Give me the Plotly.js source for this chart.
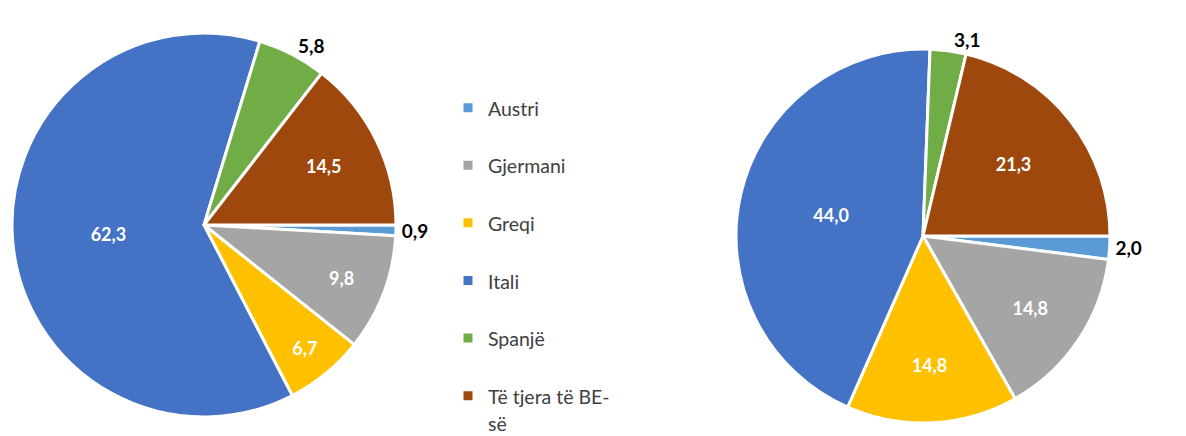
<!DOCTYPE html>
<html>
<head>
<meta charset="utf-8">
<script src="https://cdn.plot.ly/plotly-3.0.1.min.js"></script>
<style>html,body{margin:0;padding:0;background:#fff;}#chart{width:1186px;height:436px;}</style>
</head>
<body>
<div id="chart"></div>
<script>
const categories = ["Austri", "Gjermani", "Greqi", "Itali", "Spanjë", "Të tjera të BE-<br>së"];
const valuesLeft = [0.9, 9.8, 6.7, 62.3, 5.8, 14.5];
const valuesRight = [2.0, 14.8, 14.8, 44.0, 3.1, 21.3];
const colors = ["#5B9BD5", "#A5A5A5", "#FFC000", "#4472C4", "#70AD47", "#9E480E"];

const legendLabels = categories.map(c =>
  '<span style="font-size:19.5px">' + (c.indexOf("<br>") >= 0 ? c : c + "<br>\u00a0") + '</span>');
const posFor = vals => vals.map(v => v < 5 || (v < 6 && v > 5.5) ? "outside" : "inside");

const common = {
  type: "pie",
  labels: legendLabels,
  sort: false,
  direction: "clockwise",
  rotation: 90,
  marker: {colors: colors, line: {color: "#ffffff", width: 3}},
  texttemplate: "%{value:.1f}",
  insidetextorientation: "horizontal",
  insidetextfont: {family: "Lato", size: 18, color: "#ffffff", weight: "bold"},
  outsidetextfont: {family: "Lato", size: 19, color: "#000000", weight: "bold"},
  hoverinfo: "value"
};

const traces = [
  Object.assign({}, common, {
    values: valuesLeft,
    textposition: posFor(valuesLeft),
    domain: {x: [12/1186, 396/1186], y: [19/436, 403/436]},
    showlegend: true
  }),
  Object.assign({}, common, {
    values: valuesRight,
    textposition: posFor(valuesRight),
    domain: {x: [736/1186, 1110/1186], y: [13/436, 387/436]},
    showlegend: false
  })
];

const layout = {
  width: 1186, height: 436,
  margin: {l: 0, r: 0, t: 0, b: 0, autoexpand: false},
  paper_bgcolor: "#ffffff",
  separators: ", ",
  font: {family: "Lato", color: "#404040"},
  legend: {
    x: 448/1186, xanchor: "left",
    y: 1 - 87.5/436, yanchor: "top",
    valign: "top",
    maxheight: 600,
    font: {family: "Lato", size: 21, color: "#404040"},
    bgcolor: "rgba(0,0,0,0)"
  }
};

Plotly.newPlot("chart", traces, layout, {displayModeBar: false, staticPlot: true});
</script>
</body>
</html>
